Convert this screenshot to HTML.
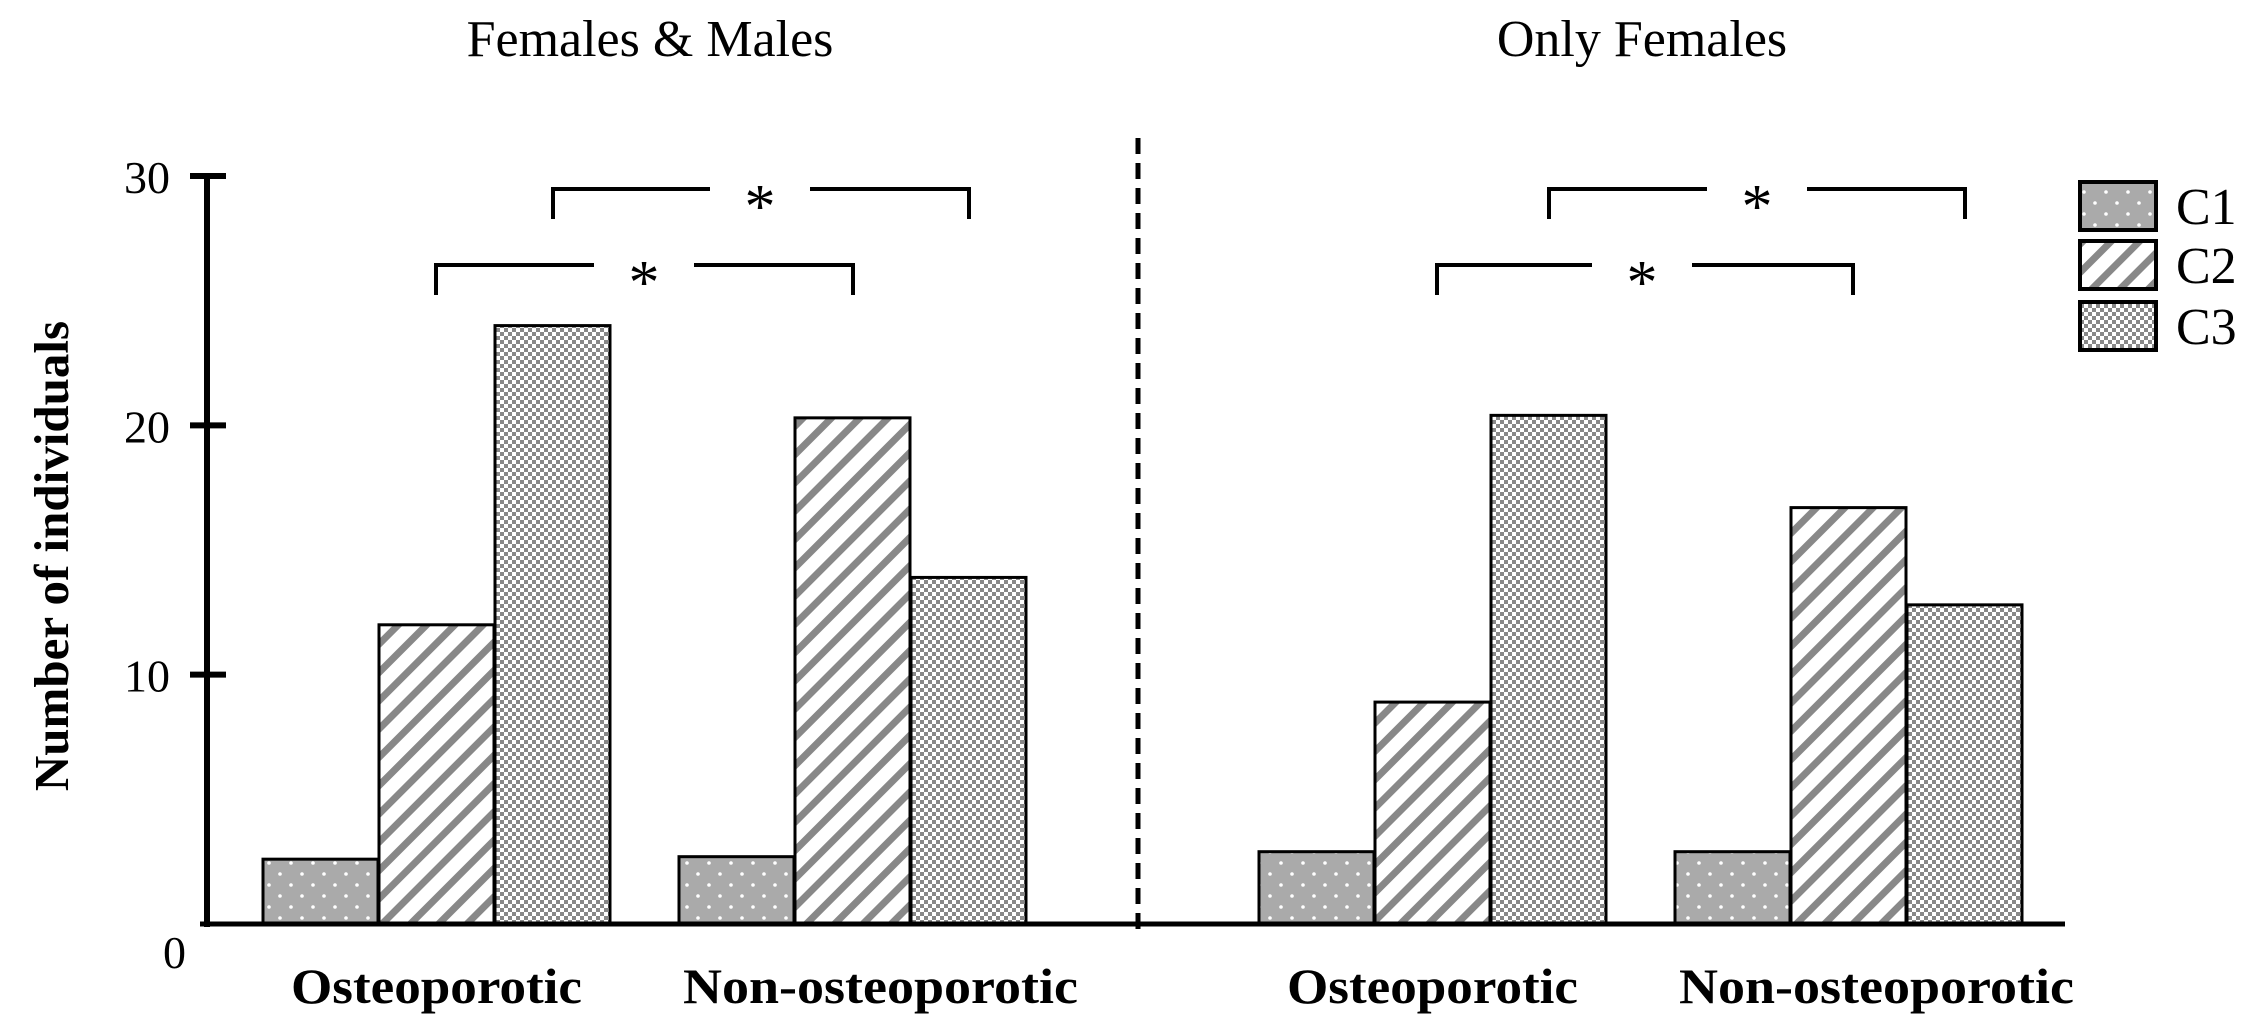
<!DOCTYPE html>
<html><head><meta charset="utf-8"><style>
html,body{margin:0;padding:0;background:#fff}
svg{display:block}
text{font-family:"Liberation Serif",serif;fill:#000}
</style></head><body>
<svg id="chart" width="2253" height="1034" viewBox="0 0 2253 1034" xmlns="http://www.w3.org/2000/svg">
<defs>
<pattern id="pC1" width="22" height="22" patternUnits="userSpaceOnUse">
<rect width="22" height="22" fill="#aaaaaa"/><circle cx="5" cy="5" r="1.8" fill="#fff"/><circle cx="16" cy="16" r="1.8" fill="#fff"/></pattern>
<pattern id="pC2" width="20" height="20" patternUnits="userSpaceOnUse" patternTransform="rotate(45)">
<rect width="20" height="20" fill="#fff"/><rect width="7" height="20" fill="#888"/></pattern>
<pattern id="pC3" width="8" height="8" patternUnits="userSpaceOnUse">
<rect width="8" height="8" fill="#fff"/><rect width="4" height="4" fill="#888"/><rect x="4" y="4" width="4" height="4" fill="#888"/></pattern>
</defs>
<g id="layer"></g>
</svg>
<script>
const panels = ["Females & Males", "Only Females"];
const groups = ["Osteoporotic", "Non-osteoporotic"];
const series = ["C1", "C2", "C3"];
const valsLeft = [[2.6, 12, 24], [2.7, 20.3, 13.9]];
const valsRight = [[2.9, 8.9, 20.4], [2.9, 16.7, 12.8]];
const yTicks = [0, 10, 20, 30];

const NS = "http://www.w3.org/2000/svg";
const g = document.getElementById("layer");
function mk(tag, attrs, txt){const e=document.createElementNS(NS,tag);for(const k in attrs)e.setAttribute(k,attrs[k]);if(txt!==undefined)e.textContent=txt;g.appendChild(e);return e;}
const y0=924, yTop=176, yMax=30;
function Y(v){return y0-(v/yMax)*(y0-yTop);}
const barW=115;
const groupStarts=[[263,679],[1259,1675]];
const labelShift=[0,28];
const labelLen=[291,395];
const panelCenters=[650,1642];

// bars
[valsLeft, valsRight].forEach((vals,p)=>{
  vals.forEach((gv,gi)=>{
    gv.forEach((v,si)=>{
      const x=groupStarts[p][gi]+si*(barW+1);
      const r=mk("rect",{x:x,y:Y(v),width:barW,height:y0-Y(v),fill:"url(#p"+series[si]+")",stroke:"#000","stroke-width":3});
      
      
    });
    const lt=mk("text",{x:groupStarts[p][gi]+1.5*barW+1+labelShift[gi],y:1003,"text-anchor":"middle","font-size":50,"font-weight":"bold",textLength:labelLen[gi],lengthAdjust:"spacingAndGlyphs"},groups[gi]);
    
    
  });
  const t=mk("text",{x:panelCenters[p],y:56,"text-anchor":"middle","font-size":52},panels[p]);
  
  
});

// axes
const ax=mk("line",{x1:207,y1:Y(30)-3,x2:207,y2:y0+3,stroke:"#000","stroke-width":6});


const bl=mk("line",{x1:200,y1:y0,x2:2065,y2:y0,stroke:"#000","stroke-width":5});


yTicks.forEach(v=>{
  if(v>0){const tk=mk("line",{x1:190,y1:Y(v),x2:226,y2:Y(v),stroke:"#000","stroke-width":6});
  
  }
  const tl=mk("text",{x:v===0?186:170,y:v===0?y0+44:Y(v)+17,"text-anchor":"end","font-size":46,"font-family":"Liberation Sans"},String(v));
  
  
});
const yl=mk("text",{x:0,y:0,transform:"translate(68,556) rotate(-90)","text-anchor":"middle","font-size":49,"font-weight":"bold"},"Number of individuals");



// divider
const dv=mk("line",{x1:1138,y1:138,x2:1138,y2:931,stroke:"#000","stroke-width":5,"stroke-dasharray":"16,9"});



// brackets
const brackets=[[553,969,189,760],[436,853,265,644],[1549,1965,189,1757],[1437,1853,265,1642]];
brackets.forEach(b=>{
  const [x1,x2,y,sx]=b;
  const pth=mk("path",{d:`M${x1} ${y+30} V${y} H${sx-50} M${sx+50} ${y} H${x2} V${y+30}`,fill:"none",stroke:"#000","stroke-width":4});
  
  
  const st=mk("text",{x:sx,y:y+38,"text-anchor":"middle","font-size":62,"font-family":"Liberation Sans"},"*");
  
  
});

// legend
const legY=[182,241,302];
series.forEach((s,i)=>{
  const r=mk("rect",{x:2080,y:legY[i],width:76,height:48,fill:"url(#p"+s+")",stroke:"#000","stroke-width":4});
  
  
  const t=mk("text",{x:2176,y:legY[i]+42,"font-size":52},s);
  
  
});
</script>
</body></html>
